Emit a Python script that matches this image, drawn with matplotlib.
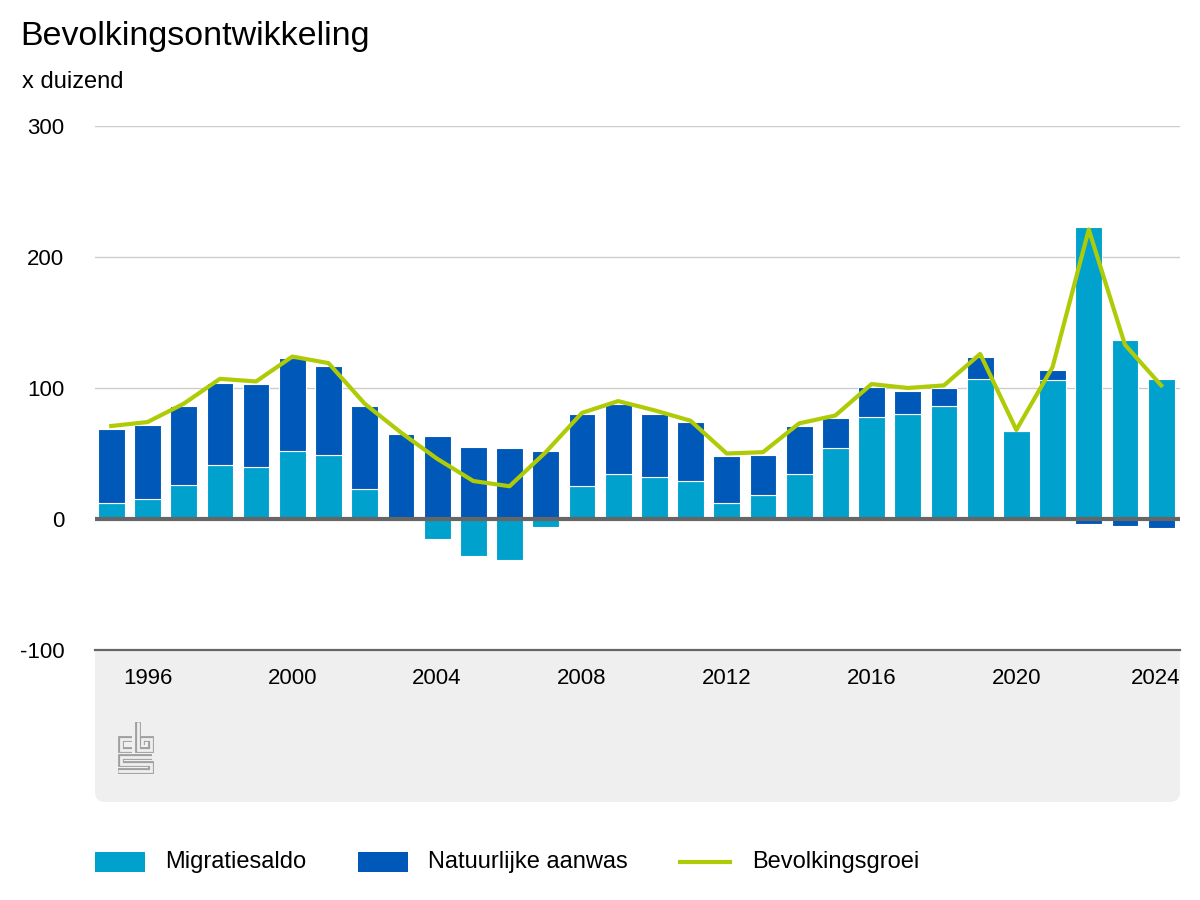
import numpy as np
import matplotlib
matplotlib.use('Agg')
import matplotlib.pyplot as plt
import matplotlib.transforms as mtransforms
from matplotlib.patches import FancyBboxPatch, Rectangle

plt.rcParams['font.family'] = ['Liberation Sans', 'DejaVu Sans']

# data (x duizend)
years = list(range(1995, 2025))
migratiesaldo = [12, 15, 26, 41, 40, 52, 49, 23, 0, -15, -28, -31, -6, 25, 34,
                 32, 29, 12, 18, 34, 54, 78, 80, 86, 107, 67, 106, 223, 137, 107]
natuurlijke_aanwas = [57, 57, 60, 63, 63, 71, 68, 63, 65, 63, 55, 54, 52, 55, 54,
                      48, 45, 36, 31, 37, 23, 23, 18, 14, 17, 0.5, 8, -4, -5, -7]
bevolkingsgroei = [71, 74, 88, 107, 105, 124, 119, 88, 66, 46, 29, 25, 51, 81, 90,
                   83, 75, 50, 51, 73, 79, 103, 100, 102, 126, 68, 116, 221, 133, 102]
xtick_years = [1996, 2000, 2004, 2008, 2012, 2016, 2020, 2024]
yticks = [-100, 0, 100, 200, 300]

LIGHT = '#00a1cd'
DARK = '#0058b8'
GREEN = '#afcb05'
W, H = 1200, 900

fig = plt.figure(figsize=(12, 9), dpi=100)

# overlay in pixel coordinates for panel, logo, titles, legend
bg = fig.add_axes([0, 0, 1, 1], zorder=0)
bg.set_xlim(0, W)
bg.set_ylim(H, 0)
bg.axis('off')

# grey panel below the plot with rounded bottom corners
bg.add_patch(FancyBboxPatch((95, 650), 1085, 152, boxstyle='round,pad=0,rounding_size=10',
                            facecolor='#efefef', edgecolor='none'))
bg.add_patch(Rectangle((95, 650), 1085, 40, facecolor='#efefef', edgecolor='none'))

# cbs logo (rough)
logo = [
    [(132, 739), (121, 739), (121, 750), (132, 750)],
    [(138, 722), (138, 750), (151, 750), (151, 739), (142, 739), (142, 745)],
    [(152, 757), (121, 757), (121, 764), (151, 764), (151, 771), (118, 771)],
]
for pts in logo:
    xs, ys = zip(*pts)
    bg.plot(xs, ys, color='#a0a0a0', lw=4.2, solid_joinstyle='miter', solid_capstyle='butt')
    bg.plot(xs, ys, color='#efefef', lw=2.0, solid_joinstyle='miter', solid_capstyle='butt')

bg.text(20, 36, 'Bevolkingsontwikkeling', fontsize=24.5, va='center', ha='left')
bg.text(22, 82, 'x duizend', fontsize=17, va='center', ha='left')

# legend
bg.add_patch(Rectangle((95, 852), 50, 20, facecolor=LIGHT, edgecolor='none'))
bg.text(165, 862, 'Migratiesaldo', fontsize=17, va='center')
bg.add_patch(Rectangle((358, 852), 50, 20, facecolor=DARK, edgecolor='none'))
bg.text(428, 862, 'Natuurlijke aanwas', fontsize=17, va='center')
bg.plot([680, 730], [862, 862], color=GREEN, lw=3)
bg.text(752, 862, 'Bevolkingsgroei', fontsize=17, va='center')

# main chart
ax = fig.add_axes([95 / W, 1 - 650 / H, 1085 / W, 524 / H], zorder=1)
ax.set_facecolor('none')

mig = np.array(migratiesaldo, dtype=float)
nat = np.array(natuurlijke_aanwas, dtype=float)
nat_bottom = np.where(nat >= 0, np.maximum(mig, 0), np.minimum(mig, 0))

ax.bar(years, mig, width=0.74, color=LIGHT, edgecolor='white', linewidth=0.8, zorder=2)
ax.bar(years, nat, bottom=nat_bottom, width=0.74, color=DARK, edgecolor='white',
       linewidth=0.8, zorder=2)
ax.plot(years, bevolkingsgroei, color=GREEN, lw=3, solid_joinstyle='round', zorder=4)

for y in [100, 200, 300]:
    ax.axhline(y, color='#cccccc', lw=1, zorder=1)
ax.axhline(0, color='#666666', lw=3, zorder=3)
ax.axhline(-100, color='#666666', lw=1.6, zorder=3, clip_on=False)

ax.set_xlim(1994.55, 2024.52)
ax.set_ylim(-100, 300)
ax.set_yticks(yticks)
ax.set_yticklabels([str(v) for v in yticks], fontsize=16)
ax.set_xticks(xtick_years)
ax.set_xticklabels([str(v) for v in xtick_years], fontsize=16)
ax.tick_params(axis='y', length=0, pad=22)
ax.tick_params(axis='x', length=0, pad=13)
# keep the last year label inside the grey panel
last = ax.get_xticklabels()[-1]
last.set_transform(last.get_transform() +
                   mtransforms.ScaledTranslation(-6 / 100, 0, fig.dpi_scale_trans))
for s in ax.spines.values():
    s.set_visible(False)

fig.savefig('out.png', dpi=100)
